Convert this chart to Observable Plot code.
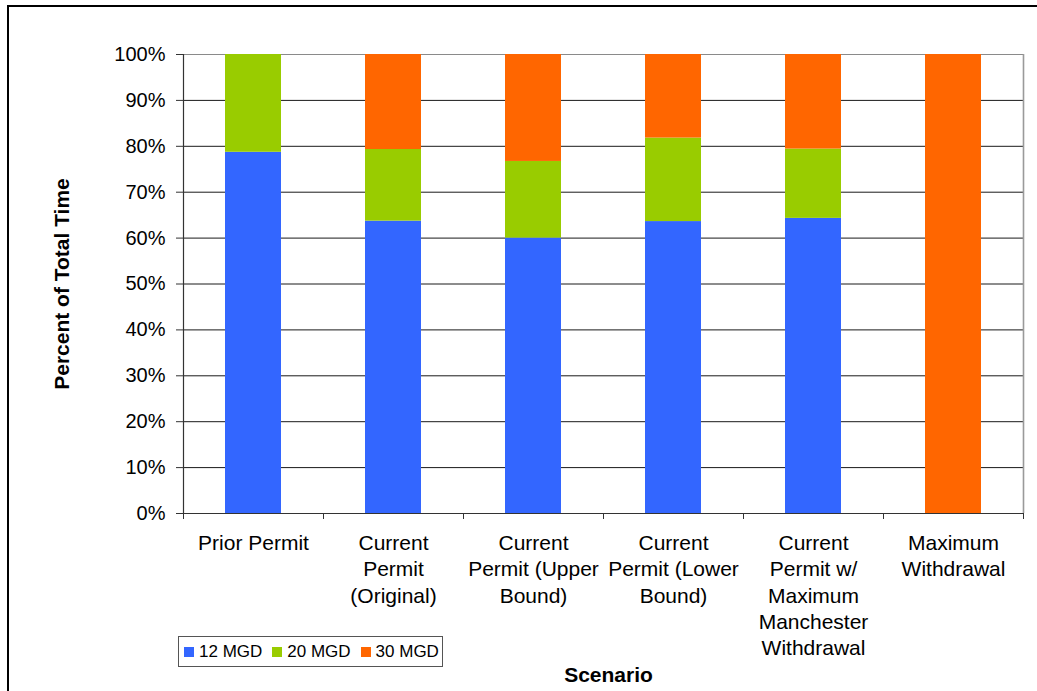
<!DOCTYPE html>
<html>
<head>
<meta charset="utf-8">
<script src="https://cdn.jsdelivr.net/npm/d3@7"></script>
<script src="https://cdn.jsdelivr.net/npm/@observablehq/plot@0.6"></script>
<style>
  html, body { margin: 0; padding: 0; background: #fff; }
  #wrap { position: relative; width: 1037px; height: 691px; overflow: hidden; font-family: "Liberation Sans", Arial, sans-serif; }
  #border { position: absolute; left: 7px; top: 5px; width: 1100px; height: 800px; border-left: 2px solid #000; border-top: 2px solid #000; pointer-events: none; }
  #legend { position: absolute; left: 178px; top: 636px; width: 263px; height: 29px; border: 1px solid #555; box-sizing: content-box; display: flex; align-items: center; font-size: 17px; color: #000; white-space: nowrap; padding-left: 5px; box-sizing: border-box; width: 265px; height: 31px; }
  #legend .item { display: flex; align-items: center; flex: none; margin-right: 10px; }
  #legend .sw { width: 10px; height: 10px; margin-right: 5px; flex: none; }
  svg { display: block; }
</style>
</head>
<body>
<div id="wrap">
  <div id="chart"></div>
  <div id="legend"></div>
  <div id="border"></div>
</div>
<script>
// Scenario categories (line breaks as set in the axis labels)
const categories = [
  "Prior Permit",
  "Current\nPermit\n(Original)",
  "Current\nPermit (Upper\nBound)",
  "Current\nPermit (Lower\nBound)",
  "Current\nPermit w/\nMaximum\nManchester\nWithdrawal",
  "Maximum\nWithdrawal"
];

// Share of total time (%) at each withdrawal rate
const seriesNames = ["12 MGD", "20 MGD", "30 MGD"];
const seriesColors = ["#3366FF", "#99CC00", "#FF6600"];
const mgd12 = [78.7, 63.7, 60.0, 63.6, 64.3, 0];
const mgd20 = [21.3, 15.6, 16.7, 18.2, 15.1, 0];
const mgd30 = [0, 20.7, 23.3, 18.2, 20.6, 100];

const yTicks = [0, 10, 20, 30, 40, 50, 60, 70, 80, 90, 100];

// Stacked segments per scenario
const seriesValues = [mgd12, mgd20, mgd30];
const rows = [];
categories.forEach((c, i) => {
  let base = 0;
  seriesValues.forEach((vals, s) => {
    const v = vals[i];
    if (v > 0) rows.push({i, series: seriesNames[s], y1: base, y2: base + v});
    base += v;
  });
});

const n = categories.length;
const font = "'Liberation Sans', Arial, sans-serif";

const chart = Plot.plot({
  width: 1037,
  height: 691,
  marginLeft: 183,
  marginRight: 14,
  marginTop: 54,
  marginBottom: 178,
  style: {fontFamily: font, fontSize: "20px", color: "#000", background: "transparent", overflow: "visible"},
  x: {domain: [0, n]},
  y: {domain: [0, 100]},
  color: {domain: seriesNames, range: seriesColors},
  marks: [
    // horizontal gridlines
    Plot.ruleY(yTicks.filter(d => d > 0 && d < 100), {stroke: "#1a1a1a", strokeWidth: 1}),
    // plot-area border (top and right)
    Plot.ruleY([100], {stroke: "#8a8a8a", strokeWidth: 1.2}),
    Plot.ruleX([n], {stroke: "#9a9a9a", strokeWidth: 1.6}),
    // stacked bars
    Plot.rect(rows, {x1: d => d.i + 0.3, x2: d => d.i + 0.7, y1: "y1", y2: "y2", fill: "series"}),
    // axis lines
    Plot.ruleX([0], {stroke: "#333", strokeWidth: 1.2}),
    Plot.ruleY([0], {stroke: "#333", strokeWidth: 1.2}),
    // y axis
    Plot.axisY(yTicks, {tickSize: 7, tickPadding: 11, tickFormat: d => d + "%", fontSize: 20, label: null, stroke: "#333"}),
    // category boundary ticks
    Plot.axisX(d3.range(0, n + 1), {tickSize: 6, tickFormat: () => "", label: null, stroke: "#333"}),
    // category labels
    Plot.axisX(d3.range(n).map(i => i + 0.5), {
      tickSize: 0, tickPadding: 18, tickFormat: d => categories[Math.round(d - 0.5)],
      fontSize: 21, lineHeight: 1.25, label: null
    }),
    // axis titles
    Plot.text(["Percent of Total Time"], {frameAnchor: "left", textAnchor: "middle", lineAnchor: "middle", dx: -121, rotate: -90, fontSize: 21, fontWeight: "bold", fill: "#000"}),
    Plot.text(["Scenario"], {frameAnchor: "bottom", textAnchor: "middle", lineAnchor: "middle", dy: 162, dx: 5, fontSize: 21, fontWeight: "bold", fill: "#000"})
  ]
});
document.getElementById("chart").appendChild(chart);

// legend
const legend = document.getElementById("legend");
seriesNames.forEach((name, k) => {
  const item = document.createElement("div");
  item.className = "item";
  const sw = document.createElement("div");
  sw.className = "sw";
  sw.style.background = seriesColors[k];
  const label = document.createElement("span");
  label.textContent = name;
  item.appendChild(sw);
  item.appendChild(label);
  legend.appendChild(item);
});
</script>
</body>
</html>
